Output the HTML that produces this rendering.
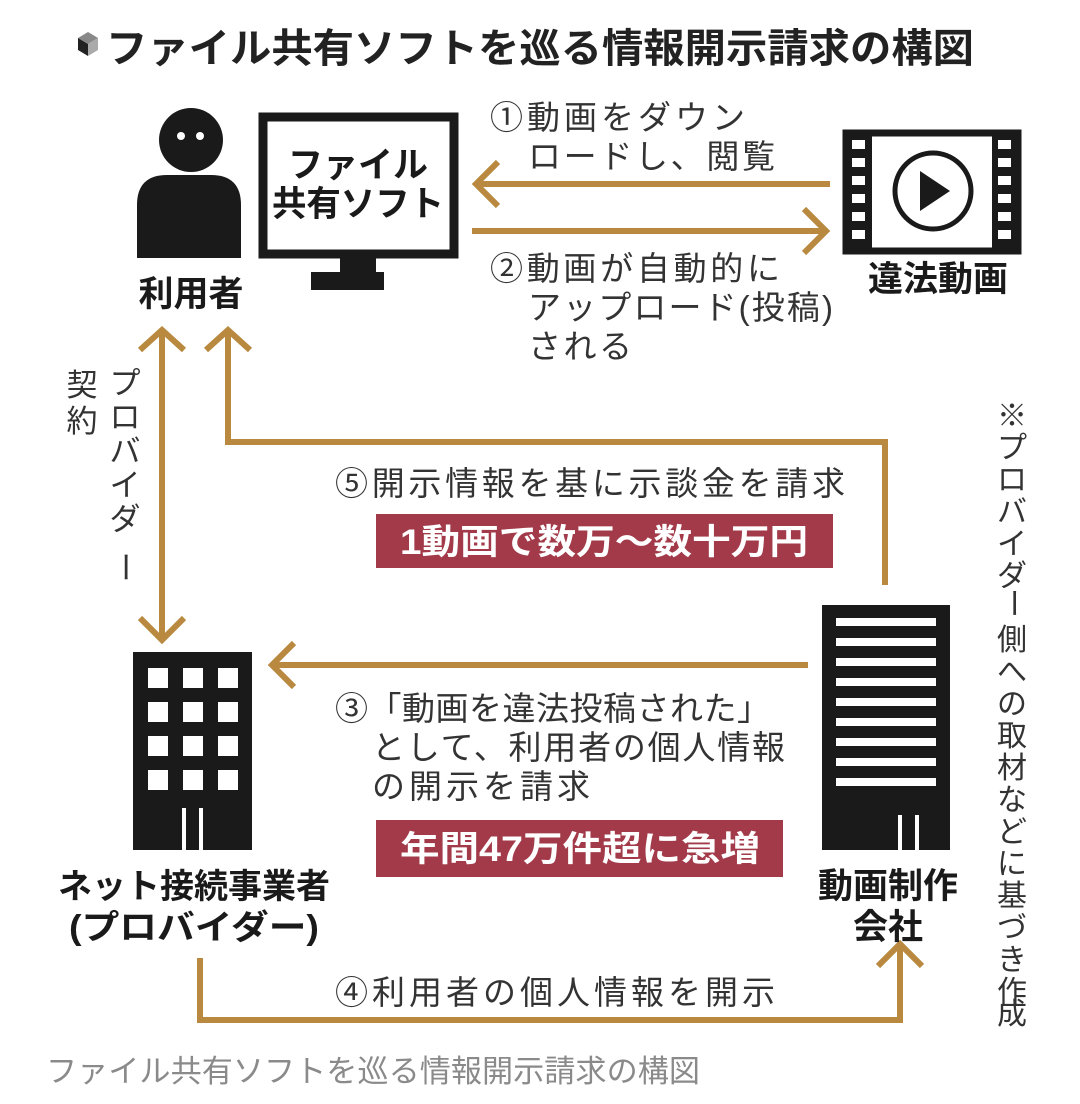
<!DOCTYPE html>
<html><head><meta charset="utf-8"><style>
html,body{margin:0;padding:0;background:#fff;}
svg{display:block;}
text{font-family:"Liberation Sans","Noto Sans CJK JP",sans-serif;}
</style></head><body>
<svg width="1080" height="1104" viewBox="0 0 1080 1104" xmlns="http://www.w3.org/2000/svg">
<rect width="1080" height="1104" fill="#fff"/>
<!-- title -->
<g transform="translate(78,48)"><polygon points="0,-10 10,-16 20,-10 10,-4" fill="#888"/><polygon points="0,-10 10,-4 10,8 0,2" fill="#222"/><polygon points="20,-10 10,-4 10,8 20,2" fill="#aaa"/></g>
<text x="106" y="62" font-size="40" font-weight="bold" fill="#222" textLength="868" lengthAdjust="spacingAndGlyphs">ファイル共有ソフトを巡る情報開示請求の構図</text>

<!-- person -->
<circle cx="191" cy="140" r="32" fill="#1a1a1a"/>
<circle cx="181" cy="136" r="4" fill="#fff"/><circle cx="200" cy="136" r="4" fill="#fff"/>
<path d="M137,258 V205 Q137,175 167,175 H211 Q241,175 241,205 V258 Z" fill="#1a1a1a"/>
<text x="191" y="306" font-size="35" font-weight="bold" text-anchor="middle" fill="#1a1a1a">利用者</text>

<!-- monitor -->
<rect x="263" y="117" width="191" height="137" fill="#fff" stroke="#1a1a1a" stroke-width="9"/>
<rect x="340" y="258" width="36" height="16" fill="#1a1a1a"/>
<rect x="311" y="272" width="73" height="18" fill="#1a1a1a"/>
<text x="358" y="177" font-size="35" font-weight="bold" text-anchor="middle" fill="#1a1a1a">ファイル</text>
<text x="358" y="216" font-size="35" font-weight="bold" text-anchor="middle" fill="#1a1a1a" textLength="172" lengthAdjust="spacingAndGlyphs">共有ソフト</text>

<!-- film -->
<rect x="846" y="133" width="172" height="118" fill="#fff" stroke="#1a1a1a" stroke-width="7"/>
<rect x="846" y="133" width="26" height="118" fill="#1a1a1a"/>
<rect x="992" y="133" width="26" height="118" fill="#1a1a1a"/>
<g fill="#fff">
<rect x="852" y="140" width="13" height="9"/><rect x="852" y="158" width="13" height="9"/><rect x="852" y="176" width="13" height="9"/><rect x="852" y="194" width="13" height="9"/><rect x="852" y="212" width="13" height="9"/><rect x="852" y="230" width="13" height="9"/>
<rect x="998" y="140" width="13" height="9"/><rect x="998" y="158" width="13" height="9"/><rect x="998" y="176" width="13" height="9"/><rect x="998" y="194" width="13" height="9"/><rect x="998" y="212" width="13" height="9"/><rect x="998" y="230" width="13" height="9"/>
</g>
<circle cx="933" cy="191" r="38" fill="none" stroke="#1a1a1a" stroke-width="5"/>
<polygon points="920,171 920,211 950,191" fill="#1a1a1a"/>
<text x="938" y="291" font-size="35" font-weight="bold" text-anchor="middle" fill="#1a1a1a">違法動画</text>

<!-- arrows -->
<g fill="none" stroke="#b8893f" stroke-width="6" stroke-linecap="butt" stroke-linejoin="miter">
<line x1="830" y1="184" x2="476" y2="184"/><polyline points="498,162 476,184 498,206"/>
<line x1="472" y1="231" x2="826" y2="231"/><polyline points="804,209 826,231 804,253"/>
<line x1="162" y1="332" x2="162" y2="638"/><polyline points="140,350 162,330 184,350"/><polyline points="140,618 162,640 184,618"/>
<polyline points="885,585 885,442 228,442 228,332"/><polyline points="206,350 228,330 250,350"/>
<line x1="808" y1="665" x2="272" y2="665"/><polyline points="294,643 272,665 294,687"/>
<polyline points="200,958 200,1020 900,1020 900,946"/><polyline points="878,966 900,944 922,966"/>
</g>

<!-- labels -->
<g font-size="33" fill="#333" lengthAdjust="spacingAndGlyphs">
<text x="490" y="129" textLength="255">①動画をダウン</text>
<text x="528" y="168" textLength="247">ロードし、閲覧</text>
<text x="490" y="280" textLength="290">②動画が自動的に</text>
<text x="528" y="319" textLength="305">アップロード(投稿)</text>
<text x="528" y="358" textLength="104">される</text>
<text x="335" y="495" textLength="510">⑤開示情報を基に示談金を請求</text>
<text x="335" y="720" textLength="435">③「動画を違法投稿された」</text>
<text x="372" y="759" textLength="413">として、利用者の個人情報</text>
<text x="372" y="798" textLength="218">の開示を請求</text>
<text x="335" y="1004" textLength="440">④利用者の個人情報を開示</text>
</g>
<g font-size="31" fill="#333" text-anchor="middle">
<text x="125" y="394">プ</text><text x="125" y="428">ロ</text><text x="125" y="462">バ</text><text x="125" y="496">イ</text><text x="125" y="530">ダ</text><text x="125" y="578" transform="rotate(90 125 567)">ー</text>
<text x="82" y="396">契</text><text x="82" y="432">約</text>
</g>
<g font-size="30" fill="#333" text-anchor="middle">
<text x="1012" y="426">※</text><text x="1012" y="458">プ</text><text x="1012" y="490">ロ</text><text x="1012" y="522">バ</text><text x="1012" y="554">イ</text><text x="1012" y="586">ダ</text><text x="1012" y="612" transform="rotate(90 1012 603)">ー</text><text x="1012" y="650">側</text><text x="1012" y="682">へ</text><text x="1012" y="714">の</text><text x="1012" y="746">取</text><text x="1012" y="778">材</text><text x="1012" y="810">な</text><text x="1012" y="842">ど</text><text x="1012" y="874">に</text><text x="1012" y="906">基</text><text x="1012" y="938">づ</text><text x="1012" y="970">き</text><text x="1012" y="1002">作</text><text x="1012" y="1024">成</text>
</g>

<!-- red boxes -->
<rect x="376" y="514" width="457" height="54" fill="#a23a4a"/>
<text x="400" y="554" font-size="35" font-weight="bold" fill="#fff" textLength="408" lengthAdjust="spacingAndGlyphs">1動画で数万～数十万円</text>
<rect x="376" y="820" width="407" height="57" fill="#a23a4a"/>
<text x="400" y="861" font-size="35" font-weight="bold" fill="#fff" textLength="360" lengthAdjust="spacingAndGlyphs">年間47万件超に急増</text>

<!-- left building -->
<rect x="133" y="652" width="119" height="198" fill="#1a1a1a"/>
<g fill="#fff">
<rect x="148" y="668" width="20" height="20"/><rect x="183" y="668" width="20" height="20"/><rect x="218" y="668" width="20" height="20"/>
<rect x="148" y="702" width="20" height="20"/><rect x="183" y="702" width="20" height="20"/><rect x="218" y="702" width="20" height="20"/>
<rect x="148" y="736" width="20" height="20"/><rect x="183" y="736" width="20" height="20"/><rect x="218" y="736" width="20" height="20"/>
<rect x="148" y="770" width="20" height="20"/><rect x="183" y="770" width="20" height="20"/><rect x="218" y="770" width="20" height="20"/>
<rect x="182" y="808" width="4" height="42"/><rect x="199" y="808" width="4" height="42"/>
</g>
<text x="194" y="898" font-size="34" font-weight="bold" text-anchor="middle" fill="#1a1a1a" textLength="272" lengthAdjust="spacingAndGlyphs">ネット接続事業者</text>
<text x="194" y="939" font-size="34" font-weight="bold" text-anchor="middle" fill="#1a1a1a" textLength="250" lengthAdjust="spacingAndGlyphs">(プロバイダー)</text>

<!-- right building -->
<rect x="822" y="605" width="128" height="245" fill="#1a1a1a"/>
<g fill="#fff">
<rect x="836" y="618" width="100" height="8"/><rect x="836" y="638" width="100" height="8"/><rect x="836" y="658" width="100" height="8"/><rect x="836" y="678" width="100" height="8"/><rect x="836" y="698" width="100" height="8"/><rect x="836" y="718" width="100" height="8"/><rect x="836" y="738" width="100" height="8"/><rect x="836" y="758" width="100" height="8"/><rect x="836" y="778" width="100" height="8"/>
<rect x="898" y="815" width="4" height="35"/><rect x="915" y="815" width="4" height="35"/>
</g>
<text x="888" y="898" font-size="35" font-weight="bold" text-anchor="middle" fill="#1a1a1a">動画制作</text>
<text x="888" y="939" font-size="35" font-weight="bold" text-anchor="middle" fill="#1a1a1a">会社</text>

<!-- caption -->
<text x="46" y="1082" font-size="31" fill="#8a8a8a" textLength="654" lengthAdjust="spacingAndGlyphs">ファイル共有ソフトを巡る情報開示請求の構図</text>
</svg>
</body></html>
